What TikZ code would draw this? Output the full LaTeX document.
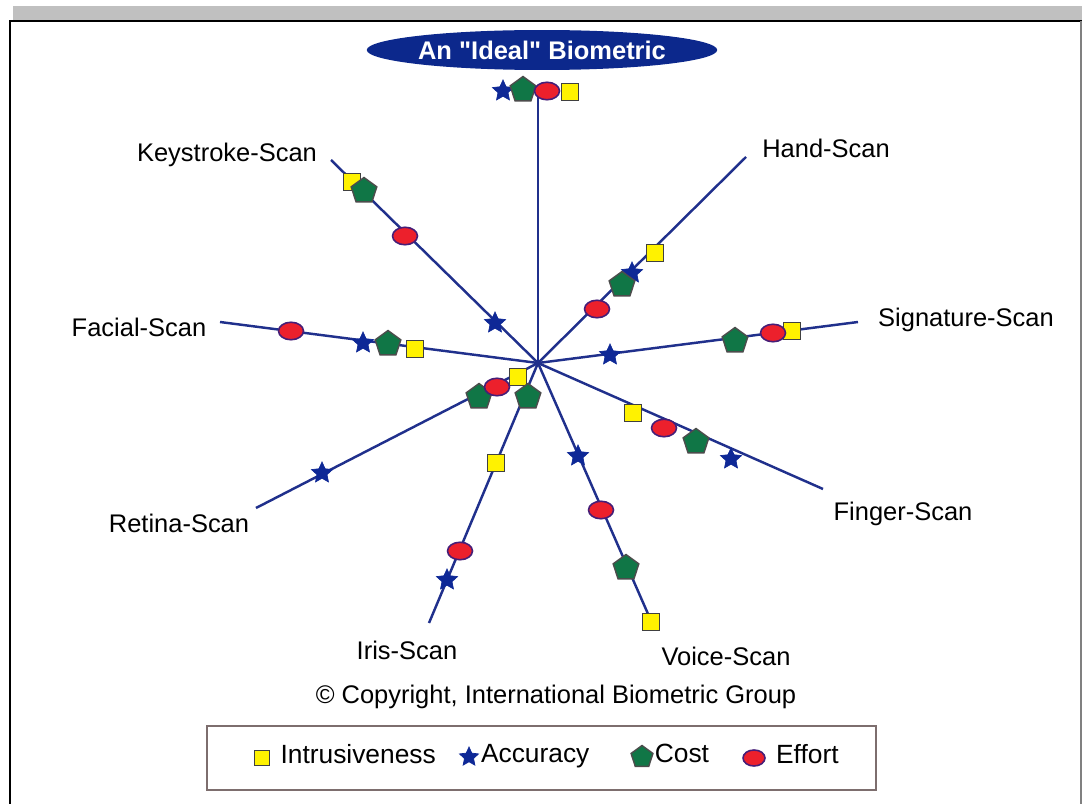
\documentclass[tikz,border=0pt]{standalone}
\usepackage{fontspec}
\setmainfont{Liberation Sans}
\usetikzlibrary{positioning,shapes.geometric}
\definecolor{spokeblue}{RGB}{32,48,140}
\definecolor{starblue}{RGB}{14,40,150}
\definecolor{costgreen}{RGB}{16,118,70}
\definecolor{effortred}{RGB}{236,32,44}
\definecolor{effortedge}{RGB}{70,30,120}
\definecolor{titleblue}{RGB}{12,40,140}
\definecolor{barGray}{RGB}{192,192,192}
\definecolor{legendEdge}{RGB}{125,110,110}
\tikzstyle{spoke} = [draw, spokeblue, line width=1.4pt]
\tikzstyle{intr} = [rectangle, draw=black!75, fill=yellow, %
   minimum size=0.35cm, inner sep=0pt, line width=0.8pt]
\tikzstyle{accu} = [star, star points=5, star point ratio=2.1, %
   fill=starblue, draw=starblue, minimum size=0.44cm, inner sep=0pt]
\tikzstyle{cost} = [regular polygon, regular polygon sides=5, fill=costgreen, %
   draw=black!70, minimum size=0.54cm, inner sep=0pt, line width=0.8pt]
\tikzstyle{effort} = [ellipse, fill=effortred, draw=effortedge, %
   minimum width=0.5cm, minimum height=0.35cm, inner sep=0pt, line width=0.9pt]
\tikzstyle{scan} = [font=\fontsize{14.5}{17}\selectfont, inner sep=0pt]
\tikzstyle{legtxt} = [scan, font=\fontsize{15}{17}\selectfont, text height=0.6em, text depth=0pt]

\begin{document}
\begin{tikzpicture}[x=0.02cm, y=-0.02cm]
   \useasboundingbox (0,0) rectangle (1082,804);

   % Frame %%%%%%%%%%%%%%%%%%%%%%%%%%%%%%%%%%%%%%%%%%%%%%%%%%%%%%%%%%
   \fill[barGray] (13,6) rectangle (1082,20);
   \draw[black, line width=1.2pt] (1082,21) -- (10,21) -- (10,804);
   \draw[gray, line width=0.6pt] (1081,21) -- (1081,804);

   % Title
   \node[ellipse, fill=titleblue, text=white, minimum width=6.2cm, minimum height=0.8cm, %
      inner sep=0pt, font=\bfseries\fontsize{14.5}{17}\selectfont](ideal) at (542,50){%
      An \textquotedbl Ideal\textquotedbl\ Biometric};

   % Spokes
   \coordinate (hub) at (538,363);
   \coordinate (idealend) at (538,92);
   \coordinate (handend) at (746,157);
   \coordinate (signend) at (858,322);
   \coordinate (fingerend) at (823,489);
   \coordinate (voiceend) at (652,623);
   \coordinate (irisend) at (429,623);
   \coordinate (retinaend) at (256,508);
   \coordinate (facialend) at (220,322);
   \coordinate (keyend) at (331,160);
   \path [spoke] (hub) -- (idealend);
   \path [spoke] (hub) -- (handend);
   \path [spoke] (hub) -- (signend);
   \path [spoke] (hub) -- (fingerend);
   \path [spoke] (hub) -- (voiceend);
   \path [spoke] (hub) -- (irisend);
   \path [spoke] (hub) -- (retinaend);
   \path [spoke] (hub) -- (facialend);
   \path [spoke] (hub) -- (keyend);

   % Scan labels
   \node[scan](keylbl) at (227,155){Keystroke-Scan};
   \node[scan](handlbl) at (826,148){Hand-Scan};
   \node[scan](faciallbl) at (139,327){Facial-Scan};
   \node[scan](signlbl) at (966,320){Signature-Scan};
   \node[scan](retinalbl) at (179,523){Retina-Scan};
   \node[scan](fingerlbl) at (903,514){Finger-Scan};
   \node[scan](irislbl) at (407,650){Iris-Scan};
   \node[scan](voicelbl) at (726,656){Voice-Scan};

   % Markers: intrusiveness
   \node[intr](ideal-i) at (570,92){};
   \node[intr](hand-i) at (655,253){};
   \node[intr](sign-i) at (792,331){};
   \node[intr](finger-i) at (633,413){};
   \node[intr](voice-i) at (651,622){};
   \node[intr](iris-i) at (496,463){};
   \node[intr](retina-i) at (518,377){};
   \node[intr](facial-i) at (415,349){};
   \node[intr](key-i) at (352,182){};

   % Markers: accuracy
   \node[accu](ideal-a) at (503,91){};
   \node[accu](hand-a) at (632,273){};
   \node[accu](sign-a) at (610,355){};
   \node[accu](finger-a) at (731,459){};
   \node[accu](voice-a) at (578,456){};
   \node[accu](iris-a) at (447,580){};
   \node[accu](retina-a) at (322,473){};
   \node[accu](facial-a) at (363,343){};
   \node[accu](key-a) at (495,323){};

   % Markers: cost
   \node[cost](ideal-c) at (523,90){};
   \node[cost](hand-c) at (622,285){};
   \node[cost](sign-c) at (735,341){};
   \node[cost](finger-c) at (696,442){};
   \node[cost](voice-c) at (626,568){};
   \node[cost](iris-c) at (528,397){};
   \node[cost](retina-c) at (479,397){};
   \node[cost](facial-c) at (388,344){};
   \node[cost](key-c) at (364,191){};

   % Markers: effort
   \node[effort](ideal-e) at (547,91){};
   \node[effort](hand-e) at (597,309){};
   \node[effort](sign-e) at (773,333){};
   \node[effort](finger-e) at (664,428){};
   \node[effort](voice-e) at (601,510){};
   \node[effort](iris-e) at (460,551){};
   \node[effort](retina-e) at (497,387){};
   \node[effort](facial-e) at (291,331){};
   \node[effort](key-e) at (405,236){};

   % Copyright and legend %%%%%%%%%%%%%%%%%%%%%%%%%%%%%%%%%%%%%%%%%%%
   \node[scan](copy) at (556,697){\textcopyright\ Copyright, International Biometric Group};
   \node[draw=legendEdge, line width=1.1pt, minimum width=13.38cm, minimum height=1.28cm, %
      inner sep=0pt](legend) at (541.5,758){};
   \node[intr, minimum size=0.3cm](leg-i) at (262,758){};
   \node[legtxt, right=0.2cm of leg-i](leg-itxt){Intrusiveness};
   \node[accu, minimum size=0.4cm](leg-a) at (469,757){};
   \node[legtxt, right=0.1cm of leg-a](leg-atxt){Accuracy};
   \node[cost, minimum size=0.46cm](leg-c) at (642,757){};
   \node[legtxt, right=0.04cm of leg-c](leg-ctxt){Cost};
   \node[effort, minimum width=0.44cm, minimum height=0.32cm](leg-e) at (754,758){};
   \node[legtxt, right=0.2cm of leg-e](leg-etxt){Effort};
\end{tikzpicture}
\end{document}
